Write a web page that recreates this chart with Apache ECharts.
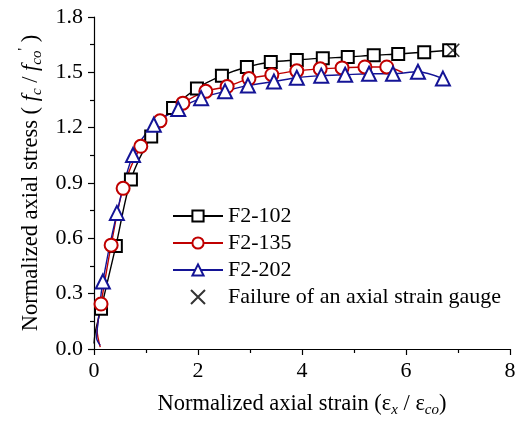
<!DOCTYPE html>
<html>
<head>
<meta charset="utf-8">
<script src="https://cdn.jsdelivr.net/npm/echarts@6/dist/echarts.min.js"></script>
<style>
  html, body { margin: 0; padding: 0; background: #fff; }
  #chart { width: 521px; height: 423px; }
</style>
</head>
<body>
<div id="chart"></div>
<script>
// values (normalized strain / normalized stress)
const strain102 = [0.0, 0.03, 0.135, 0.42, 0.71, 1.10, 1.52, 1.98, 2.46, 2.94, 3.40, 3.90, 4.40, 4.88, 5.38, 5.85, 6.35, 6.83, 6.90];
const stress102 = [0.03, 0.10, 0.218, 0.558, 0.919, 1.152, 1.306, 1.413, 1.482, 1.529, 1.556, 1.567, 1.577, 1.583, 1.593, 1.599, 1.609, 1.620, 1.622];
const strain135 = [0.12, 0.06, 0.135, 0.33, 0.56, 0.90, 1.27, 1.71, 2.15, 2.56, 2.98, 3.42, 3.90, 4.35, 4.77, 5.21, 5.63, 5.94];
const stress135 = [0.01, 0.10, 0.244, 0.563, 0.871, 1.099, 1.237, 1.333, 1.397, 1.423, 1.466, 1.487, 1.508, 1.519, 1.524, 1.529, 1.529, 1.498];
const strain202 = [0.12, 0.05, 0.08, 0.17, 0.44, 0.75, 1.15, 1.62, 2.06, 2.52, 2.96, 3.46, 3.90, 4.37, 4.83, 5.29, 5.75, 6.23, 6.71];
const stress202 = [0.02, 0.06, 0.15, 0.366, 0.738, 1.052, 1.216, 1.301, 1.360, 1.397, 1.429, 1.450, 1.471, 1.482, 1.487, 1.492, 1.492, 1.503, 1.466];
// which points are only line (no marker)
const plain102 = [0, 1, 18];
const plain135 = [0, 1, 17];
const plain202 = [0, 1, 2];
const failureStrain = [6.9];
const failureStress = [1.62];

const names = ["F2-102", "F2-135", "F2-202", "Failure of an axial strain gauge"];
const yTicks = [0, 0.3, 0.6, 0.9, 1.2, 1.5, 1.8];

const serif = "Liberation Serif";

const toData = (xs, ys, plain) =>
  xs.map((x, i) => plain.includes(i) ? { value: [x, ys[i]], symbol: "none" } : [x, ys[i]]);

const chart = echarts.init(document.getElementById("chart"));

const lineSeries = (name, xs, ys, plain, color, symbol, size) => ({
  name,
  type: "line",
  data: toData(xs, ys, plain),
  smooth: 0.3,
  symbol,
  symbolSize: size,
  showAllSymbol: true,
  lineStyle: { color, width: 1.4 },
  itemStyle: { color, borderColor: color, borderWidth: 1.4 },
  emphasis: { disabled: true }
});

const option = {
  animation: false,
  backgroundColor: "#fff",
  grid: { left: 94, right: 11, top: 17, bottom: 67 },
  legend: {
    orient: "vertical",
    left: 167,
    top: 200,
    itemWidth: 50,
    itemHeight: 14,
    itemGap: 5,
    data: names,
    textStyle: { fontFamily: serif, fontSize: 22, color: "#000", lineHeight: 22 }
  },
  xAxis: {
    type: "value",
    min: 0,
    max: 8,
    interval: 2,
    name: "{a|Normalized axial strain (ε}{sub|x}{a| / ε}{sub|co}{a|)}",
    nameLocation: "middle",
    nameGap: 41,
    nameTextStyle: {
      rich: {
        a: { fontFamily: serif, fontSize: 22.5, color: "#000", lineHeight: 28, verticalAlign: "middle" },
        sub: { fontFamily: serif, fontSize: 15, fontStyle: "italic", color: "#000", lineHeight: 15, verticalAlign: "bottom" }
      }
    },
    axisLine: { lineStyle: { color: "#000", width: 1.2 } },
    axisTick: { inside: false, length: 6, lineStyle: { color: "#000", width: 1.2 } },
    minorTick: { show: true, splitNumber: 2, length: 4, lineStyle: { color: "#000", width: 1.2 } },
    splitLine: { show: false },
    axisLabel: { fontFamily: serif, fontSize: 22, color: "#000", margin: 11 }
  },
  yAxis: {
    type: "value",
    min: 0,
    max: 1.8,
    interval: 0.3,
    name: "{a|Normalized axial stress ( }{i|f}{sub|c}{a| / }{i|f}{sub|co}{sup|'}{a| )}",
    nameLocation: "middle",
    nameRotate: 90,
    nameGap: 47,
    nameTextStyle: {
      rich: {
        a: { fontFamily: serif, fontSize: 22.5, color: "#000", lineHeight: 28, verticalAlign: "middle" },
        i: { fontFamily: serif, fontSize: 22.5, fontStyle: "italic", color: "#000", lineHeight: 28, verticalAlign: "middle" },
        sub: { fontFamily: serif, fontSize: 15, fontStyle: "italic", color: "#000", lineHeight: 15, verticalAlign: "bottom" },
        sup: { fontFamily: serif, fontSize: 15, color: "#000", lineHeight: 15, verticalAlign: "top" }
      }
    },
    axisLine: { show: true, lineStyle: { color: "#000", width: 1.2 } },
    axisTick: { show: true, inside: false, length: 6, lineStyle: { color: "#000", width: 1.2 } },
    minorTick: { show: true, splitNumber: 2, length: 4, lineStyle: { color: "#000", width: 1.2 } },
    splitLine: { show: false },
    axisLabel: {
      fontFamily: serif, fontSize: 22, color: "#000", margin: 11,
      formatter: (v) => yTicks.includes(Math.round(v * 10) / 10) ? v.toFixed(1) : ""
    }
  },
  series: [
    lineSeries(names[0], strain102, stress102, plain102, "#000000", "emptyRect", 12),
    lineSeries(names[1], strain135, stress135, plain135, "#c00000", "emptyCircle", 13),
    lineSeries(names[2], strain202, stress202, plain202, "#141496", "emptyTriangle", 14),
    {
      name: names[3],
      type: "scatter",
      data: failureStrain.map((x, i) => [x, failureStress[i]]),
      symbol: "path://M0,0L10,10M10,0L0,10",
      symbolSize: 13,
      itemStyle: { color: "none", borderColor: "#000", borderWidth: 1.6 },
      emphasis: { disabled: true },
      z: 5
    }
  ]
};

chart.setOption(option);
window.addEventListener("resize", () => chart.resize());
</script>
</body>
</html>
